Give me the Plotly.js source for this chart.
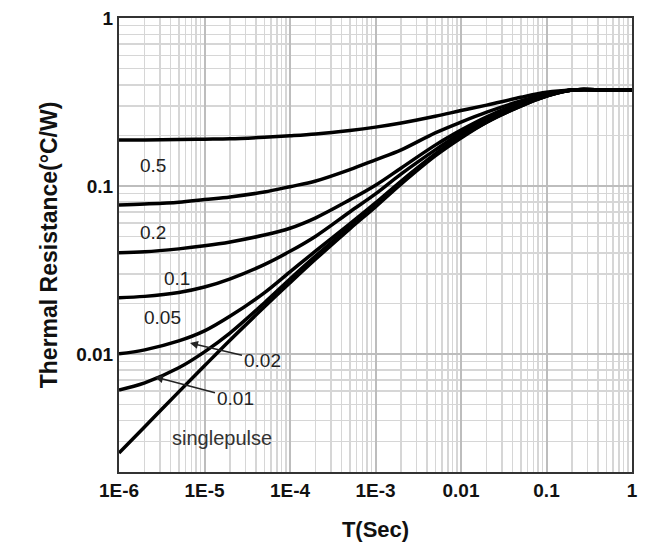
<!DOCTYPE html>
<html>
<head>
<meta charset="utf-8">
<script src="https://cdn.plot.ly/plotly-3.0.1.min.js"></script>
<style>html,body{margin:0;padding:0;background:#fff;}#chart{width:669px;height:547px;}</style>
</head>
<body>
<div id="chart"></div>
<script>
// Pulse duration (s)
const timeSec = [1e-6, 2e-6, 5e-6, 1e-5, 2e-5, 5e-5, 1e-4, 2e-4, 5e-4, 1e-3, 2e-3, 5e-3, 1e-2, 2e-2, 5e-2, 0.1, 0.2, 0.5, 1];

// Thermal resistance (°C/W) per duty cycle
const dutyLabels = ["0.5", "0.2", "0.1", "0.05", "0.02", "0.01", "singlepulse"];
const zD050 = [0.188, 0.188, 0.189, 0.190, 0.191, 0.195, 0.199, 0.204, 0.214, 0.224, 0.237, 0.260, 0.281, 0.303, 0.337, 0.361, 0.372, 0.373, 0.373];
const zD020 = [0.077, 0.078, 0.080, 0.083, 0.086, 0.092, 0.099, 0.107, 0.125, 0.143, 0.164, 0.207, 0.240, 0.275, 0.321, 0.353, 0.373, 0.373, 0.373];
const zD010 = [0.0400, 0.0405, 0.0422, 0.0440, 0.0464, 0.0510, 0.0560, 0.0646, 0.0826, 0.101, 0.128, 0.175, 0.215, 0.258, 0.312, 0.348, 0.373, 0.373, 0.373];
const zD005 = [0.0216, 0.0220, 0.0232, 0.0250, 0.0280, 0.0340, 0.0408, 0.0502, 0.0700, 0.0896, 0.118, 0.164, 0.207, 0.250, 0.308, 0.348, 0.373, 0.373, 0.373];
const zD002 = [0.0100, 0.01056, 0.01194, 0.0137, 0.0168, 0.0231, 0.0308, 0.0410, 0.0594, 0.0792, 0.107, 0.155, 0.199, 0.244, 0.304, 0.343, 0.373, 0.373, 0.373];
const zD001 = [0.0061, 0.00672, 0.00826, 0.01028, 0.01334, 0.0201, 0.0279, 0.0383, 0.0570, 0.0771, 0.1057, 0.153, 0.196, 0.240, 0.299, 0.343, 0.373, 0.373, 0.373];
const zSingle = [0.00257, 0.00368, 0.00594, 0.00849, 0.0121, 0.0190, 0.0265, 0.0367, 0.0555, 0.0750, 0.1028, 0.151, 0.193, 0.240, 0.299, 0.343, 0.373, 0.373, 0.373];

const xTickVals = [1e-6, 1e-5, 1e-4, 1e-3, 1e-2, 0.1, 1];
const xTickText = ["1E-6", "1E-5", "1E-4", "1E-3", "0.01", "0.1", "1"];
const yTickVals = [0.01, 0.1, 1];
const yTickText = ["0.01", "0.1", "1"];

const series = [zD050, zD020, zD010, zD005, zD002, zD001, zSingle];
const traces = series.map((ys, i) => ({
  x: timeSec, y: ys, type: "scatter", mode: "lines", name: dutyLabels[i],
  line: {color: "#000", width: 3.5, shape: "spline", smoothing: 1},
  hoverinfo: "skip"
}));

// minor grid positions (2..9 within each decade)
function minorVals(lo, hi) {
  const out = [];
  for (let e = lo; e < hi; e++) for (let m = 2; m <= 9; m++) out.push(m * Math.pow(10, e));
  return out;
}

// pixel helpers for label placement (plot area 119..632 x 18..472)
const Y0 = Math.log10(0.00198);
const px2x = px => -6 + (px - 119) / (513 / 6);
const px2y = py => -(py - 18) * (-Y0) / 454;

const F = "Liberation Sans, Arial, sans-serif";
const lab = {font: {family: F, size: 19, color: "#222"}, showarrow: false};
const annotations = [
  {x: px2x(153), y: px2y(165), text: "0.5", ...lab},
  {x: px2x(153), y: px2y(232), text: "0.2", ...lab},
  {x: px2x(177), y: px2y(278), text: "0.1", ...lab},
  {x: px2x(162), y: px2y(317), text: "0.05", ...lab},
  {x: px2x(190), y: px2y(343), text: "0.02", font: {family: F, size: 19, color: "#222"},
   showarrow: true, ax: 72, ay: 17, arrowhead: 2, arrowsize: 1, arrowwidth: 1.6, arrowcolor: "#222", standoff: 0},
  {x: px2x(155), y: px2y(377), text: "0.01", font: {family: F, size: 19, color: "#222"},
   showarrow: true, ax: 80, ay: 21, arrowhead: 2, arrowsize: 1, arrowwidth: 1.6, arrowcolor: "#222", standoff: 0},
  {x: px2x(222), y: px2y(438), text: "singlepulse", font: {family: F, size: 20, color: "#333"}, showarrow: false}
];

const layout = {
  width: 669, height: 547,
  margin: {l: 119, r: 37, t: 18, b: 75},
  paper_bgcolor: "#fff", plot_bgcolor: "#fff",
  showlegend: false,
  font: {family: F, color: "#000"},
  xaxis: {
    type: "log", range: [-6, 0],
    tickvals: xTickVals, ticktext: xTickText,
    tickfont: {size: 19, weight: "bold", color: "#111"},
    showgrid: true, gridcolor: "#bdbdbd", gridwidth: 2,
    minor: {tickmode: "array", tickvals: minorVals(-6, 0), showgrid: true, gridcolor: "#d6d6d6", gridwidth: 1.5, ticks: ""},
    showline: true, mirror: true, linecolor: "#333", linewidth: 2,
    ticks: "", zeroline: false,
    title: {text: "T(Sec)", font: {size: 22, weight: "bold", color: "#111"}, standoff: 22}
  },
  yaxis: {
    type: "log", range: [Y0, 0],
    tickvals: yTickVals, ticktext: yTickText,
    tickfont: {size: 19, weight: "bold", color: "#111"},
    showgrid: true, gridcolor: "#bdbdbd", gridwidth: 2,
    minor: {tickmode: "array", tickvals: minorVals(-3, 0), showgrid: true, gridcolor: "#d6d6d6", gridwidth: 1.5, ticks: ""},
    showline: true, mirror: true, linecolor: "#333", linewidth: 2,
    ticks: "", zeroline: false,
    title: {text: "Thermal Resistance(°C/W)", font: {size: 23, weight: "bold", color: "#111"}, standoff: 12}
  },
  annotations: annotations
};
Plotly.newPlot("chart", traces, layout, {staticPlot: true, displayModeBar: false});
</script>
</body>
</html>
